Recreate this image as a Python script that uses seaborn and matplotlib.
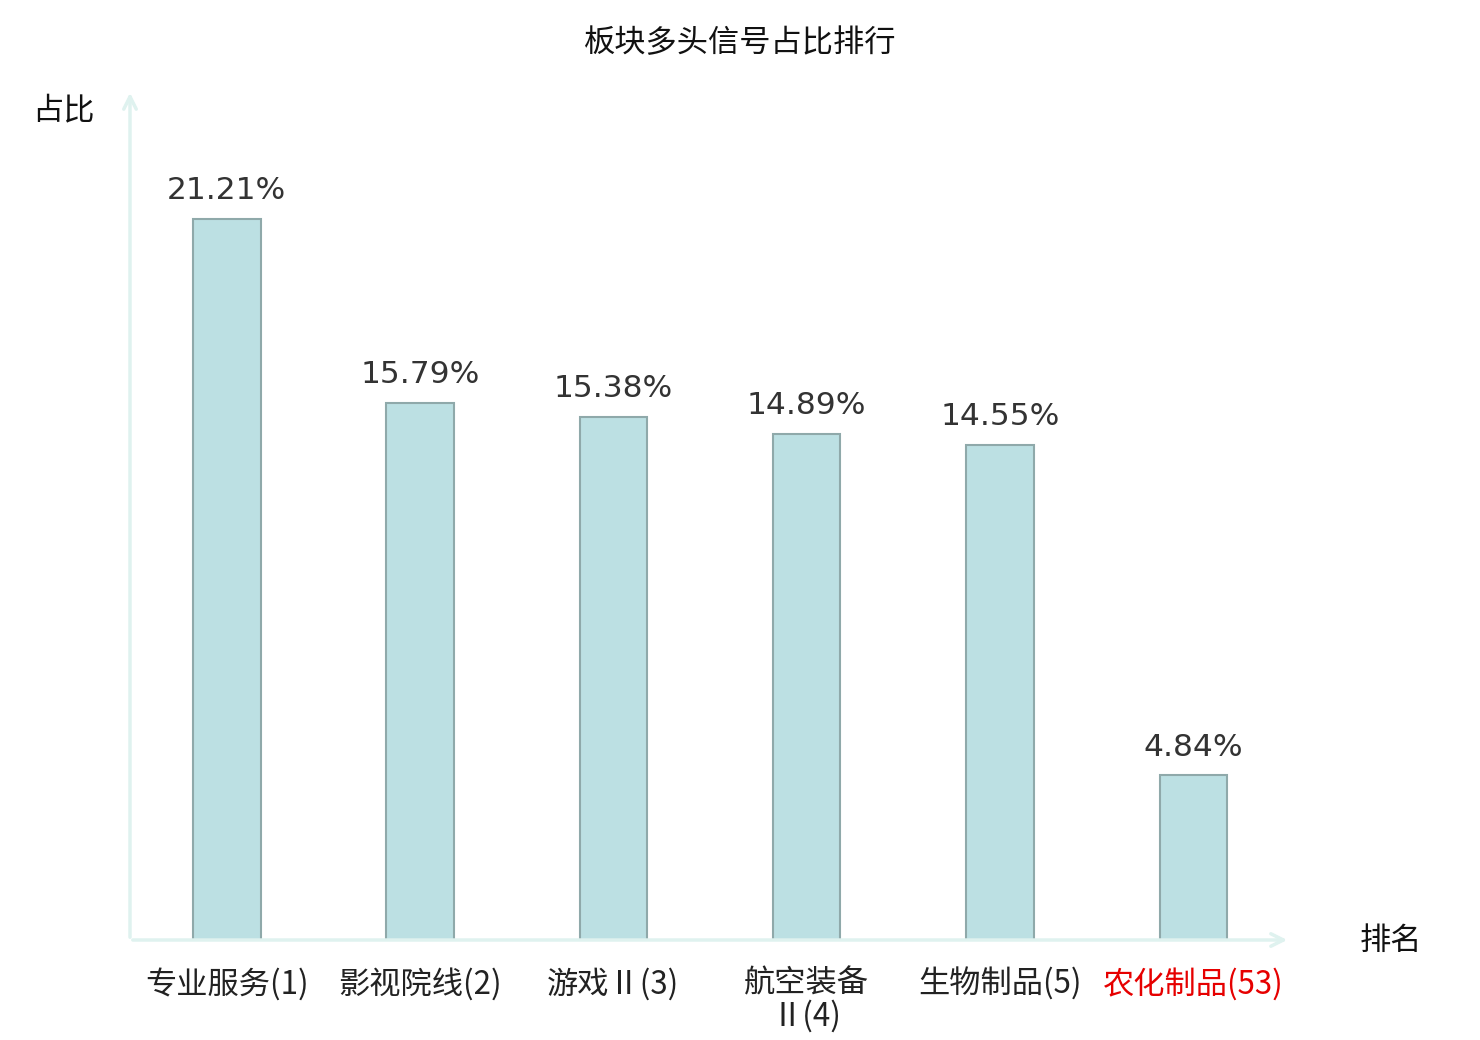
import numpy as np
import pandas as pd
import matplotlib
matplotlib.use("Agg")
import matplotlib.pyplot as plt
import seaborn as sns

# data
sectors = ["专业服务(1)", "影视院线(2)", "游戏Ⅱ(3)", "航空装备\nⅡ(4)", "生物制品(5)", "农化制品(53)"]
shares = [21.21, 15.79, 15.38, 14.89, 14.55, 4.84]
highlight = [False, False, False, False, False, True]

df = pd.DataFrame({"sector": sectors, "share": shares})

sns.set_style("white")
plt.rcParams["font.family"] = ["Noto Sans CJK SC", "DejaVu Sans"]

fig = plt.figure(figsize=(14.8, 10.4), dpi=100)
ax = fig.add_axes([130 / 1480, 100 / 1040, 1160 / 1480, 850 / 1040])

sns.barplot(data=df, x="sector", y="share", color="#bce0e3", saturation=1,
            width=0.35, edgecolor="#8fa9aa", linewidth=1.5, ax=ax)

ax.set_ylim(0, 25)
ax.set_xlim(-0.5, len(sectors) - 0.5)
for s in ax.spines.values():
    s.set_visible(False)
ax.set_yticks([])
ax.tick_params(axis="x", length=0, pad=20)
ax.set_xticks(range(len(sectors)))
ax.set_xticklabels(sectors, fontsize=22.5, linespacing=1.0)
for lbl, red in zip(ax.get_xticklabels(), highlight):
    lbl.set_color("#e60000" if red else "#222222")
ax.set_xlabel("")
ax.set_ylabel("")

# value labels
for i, v in enumerate(shares):
    ax.annotate(f"{v:.2f}%", (i, v), xytext=(0, 10), textcoords="offset points",
                ha="center", va="bottom", fontsize=22.5, color="#333333",
                family="DejaVu Sans")

# axis arrows
acol = "#dff2ef"
ax.annotate("", xy=(1.0, 0), xytext=(0, 0), xycoords="axes fraction",
            arrowprops=dict(arrowstyle="->,head_length=0.9,head_width=0.45",
                            color=acol, lw=2.5), annotation_clip=False)
ax.annotate("", xy=(0, 1.0), xytext=(0, 0), xycoords="axes fraction",
            arrowprops=dict(arrowstyle="->,head_length=0.9,head_width=0.45",
                            color=acol, lw=2.5), annotation_clip=False)

fig.text(740 / 1480, 1 - 43 / 1040, "板块多头信号占比排行", ha="center", va="center",
         fontsize=22.5, color="#111111")
fig.text(63 / 1480, 1 - 110 / 1040, "占比", ha="center", va="center",
         fontsize=22.5, color="#111111")
fig.text(1391 / 1480, 1 - 941 / 1040, "排名", ha="center", va="center",
         fontsize=22.5, color="#111111")

fig.savefig("out.png", dpi=100)
